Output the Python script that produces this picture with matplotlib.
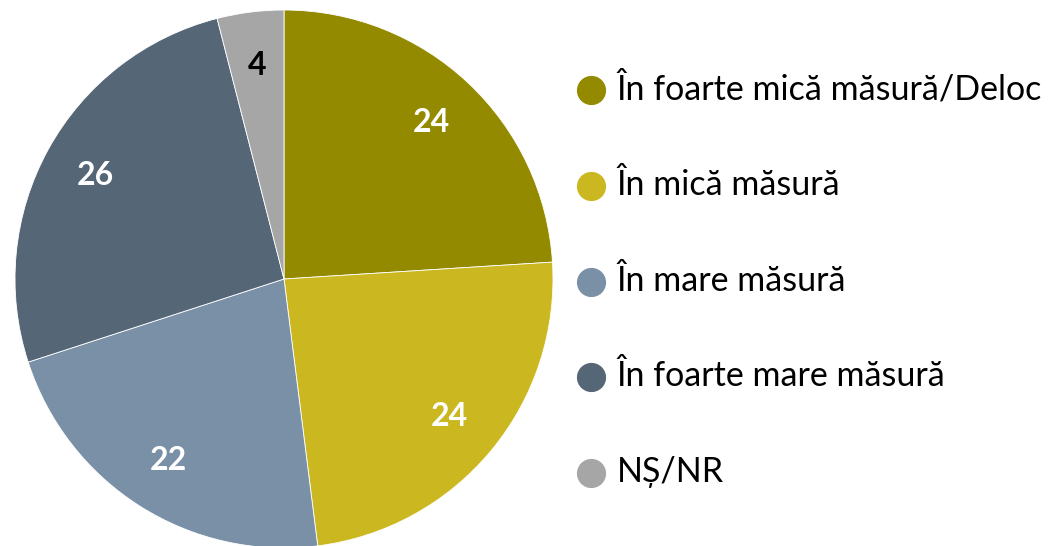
import matplotlib
matplotlib.use("Agg")
import matplotlib.pyplot as plt
from matplotlib.lines import Line2D

categories = ["În foarte mică măsură/Deloc", "În mică măsură", "În mare măsură",
              "În foarte mare măsură", "NȘ/NR"]
values = [24, 24, 22, 26, 4]
colors = ["#948A00", "#CBB820", "#7A90A6", "#556677", "#A6A6A6"]
label_colors = ["white", "white", "white", "white", "black"]

plt.rcParams['font.family'] = ['Lato', 'DejaVu Sans']

W, H = 1054, 546
fig = plt.figure(figsize=(W / 100, H / 100), dpi=100)
cx, cy, r = 284, 279, 269
ax = fig.add_axes([(cx - r) / W, (H - cy - r) / H, 2 * r / W, 2 * r / H])
wedges, texts = ax.pie(values, colors=colors, startangle=90, counterclock=False,
                       radius=1, labels=[str(v) for v in values], labeldistance=0.8,
                       wedgeprops=dict(linewidth=0.6, edgecolor="white"),
                       textprops=dict(fontsize=23, fontweight="bold"))
for t, c in zip(texts, label_colors):
    t.set_color(c)
    t.set_ha("center")
    t.set_va("center")
ax.set_xlim(-1, 1)
ax.set_ylim(-1, 1)
ax.set_aspect("equal")
ax.axis("off")

# legend
mx, tx = 591, 617
y0, dy = 90, 95.8
for i, (lab, col) in enumerate(zip(categories, colors)):
    y = y0 + i * dy
    fig.add_artist(Line2D([mx / W], [1 - y / H], marker="o", markersize=20,
                          color=col, linestyle="none", transform=fig.transFigure))
    fig.text(tx / W, 1 - (y - 1) / H, lab, fontsize=24.5, va="center", ha="left",
             color="black")

fig.savefig("out.png", dpi=100)
